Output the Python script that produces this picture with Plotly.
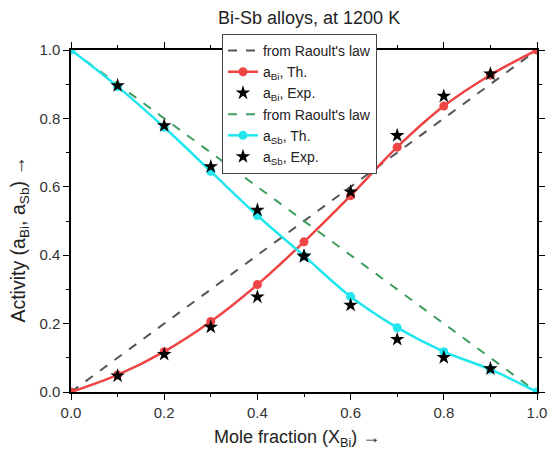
import plotly.graph_objects as go

x_th = [0.0, 0.1, 0.2, 0.3, 0.4, 0.5, 0.6, 0.7, 0.8, 0.9, 1.0]
a_bi_th = [0.0, 0.05, 0.118, 0.206, 0.314, 0.439, 0.574, 0.716, 0.836, 0.927, 1.0]
a_sb_th = [1.0, 0.893, 0.774, 0.645, 0.516, 0.398, 0.279, 0.188, 0.118, 0.066, 0.0]
x_exp = [0.1, 0.2, 0.3, 0.4, 0.5, 0.6, 0.7, 0.8, 0.9]
a_bi_exp = [0.047, 0.11, 0.19, 0.278, 0.398, 0.585, 0.75, 0.865, 0.93]
a_sb_exp = [0.896, 0.779, 0.659, 0.532, 0.396, 0.254, 0.154, 0.101, 0.068]
raoult_x = [0.0, 1.0]
raoult_bi = [0.0, 1.0]
raoult_sb = [1.0, 0.0]

RED = "#ee4444"
CYAN = "#22e6ee"
GRAY = "#555555"
GREEN = "#3e9e5e"

fig = go.Figure()
fig.add_trace(go.Scatter(x=raoult_x, y=raoult_bi, mode="lines", name="from Raoult's law",
                         line=dict(color=GRAY, width=2, dash="dash"), legendrank=1))
fig.add_trace(go.Scatter(x=raoult_x, y=raoult_sb, mode="lines", name="from Raoult's law",
                         line=dict(color=GREEN, width=2, dash="dash"), legendrank=4))
fig.add_trace(go.Scatter(x=x_th, y=a_bi_th, mode="lines+markers", name="a<sub>Bi</sub>, Th.",
                         line=dict(color=RED, width=2.5, shape="spline"),
                         marker=dict(color=RED, size=9), legendrank=2))
fig.add_trace(go.Scatter(x=x_th, y=a_sb_th, mode="lines+markers", name="a<sub>Sb</sub>, Th.",
                         line=dict(color=CYAN, width=2.5, shape="spline"),
                         marker=dict(color=CYAN, size=9), legendrank=5))
fig.add_trace(go.Scatter(x=x_exp, y=a_bi_exp, mode="markers", name="a<sub>Bi</sub>, Exp.",
                         marker=dict(color="black", size=11, symbol="star"), legendrank=3))
fig.add_trace(go.Scatter(x=x_exp, y=a_sb_exp, mode="markers", name="a<sub>Sb</sub>, Exp.",
                         marker=dict(color="black", size=11, symbol="star"), legendrank=6))

axis_common = dict(showline=True, linecolor="black", linewidth=1.5, mirror="ticks",
                   ticks="outside", ticklen=6, tickwidth=1.3, tickcolor="black",
                   showgrid=False, zeroline=False, automargin=False,
                   tickfont=dict(size=15, color="#333333", family="Liberation Sans, Arial"),
                   minor=dict(ticks="outside", ticklen=3.5, tickwidth=1.2, tickcolor="black", dtick=0.1))

fig.update_xaxes(range=[0, 1], dtick=0.2, tickformat=".1f", **axis_common)
fig.update_yaxes(range=[0, 1], dtick=0.2, tickformat=".1f", **axis_common)

fig.add_annotation(text="Mole fraction (X<sub>Bi</sub>) →", xref="paper", yref="paper",
                   x=0.485, y=-0.136, xanchor="center", yanchor="middle", showarrow=False,
                   font=dict(size=18, color="#222222"))
fig.add_annotation(text="Activity (a<sub>Bi</sub>, a<sub>Sb</sub>) →", xref="paper", yref="paper",
                   x=-0.11, y=0.445, xanchor="center", yanchor="middle", showarrow=False,
                   textangle=-90, font=dict(size=19.5, color="#222222"))

fig.update_layout(
    width=549, height=449,
    margin=dict(l=71, r=12, t=50, b=57),
    paper_bgcolor="white", plot_bgcolor="white",
    font=dict(family="Liberation Sans, Arial", color="#222222"),
    title=dict(text="Bi-Sb alloys, at 1200 K", x=0.563, xanchor="center", y=0.96, yanchor="middle",
               font=dict(size=18, color="#222222")),
    legend=dict(x=0.324, y=1.047, xanchor="left", yanchor="top",
                bgcolor="white", bordercolor="#444444", borderwidth=1,
                font=dict(size=14, color="#222222"), tracegroupgap=0,
                itemwidth=30),
    showlegend=True,
)

fig.write_html("out.html")
